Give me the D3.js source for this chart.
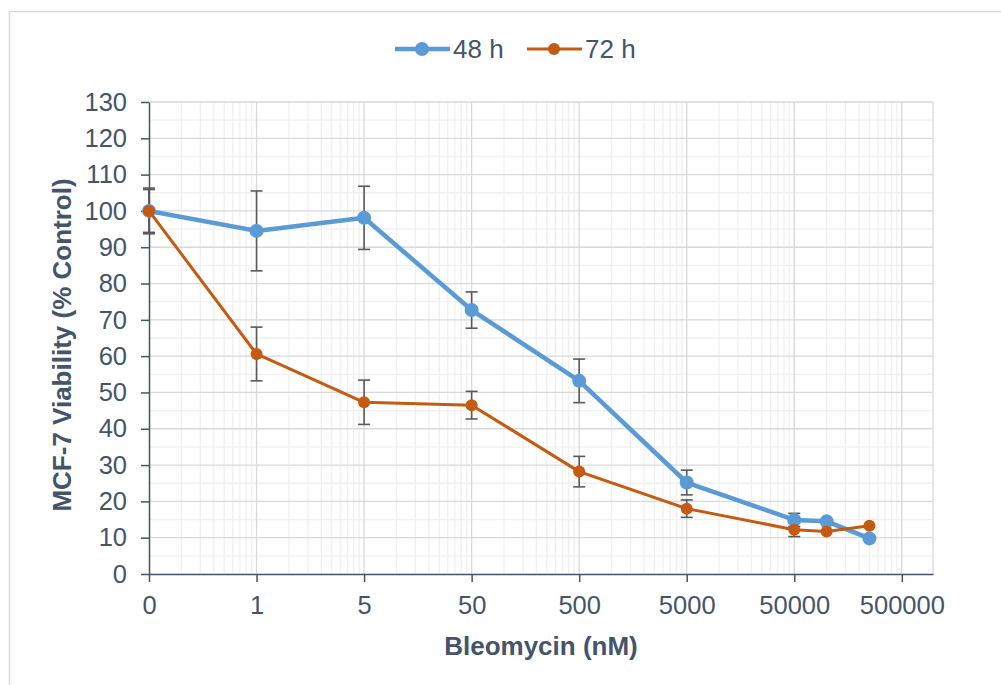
<!DOCTYPE html>
<html>
<head>
<meta charset="utf-8">
<script src="https://cdn.jsdelivr.net/npm/d3@7"></script>
<style>
  body { margin: 0; background: #fff; }
  text { font-family: "Liberation Sans", Arial, sans-serif; fill: #44546A; }
</style>
</head>
<body>
<div class="chart"></div>
<script>
// Data (x is the concentration on the log axis; labels are the axis text)
var doses = [1, 10, 100, 1000, 1e4, 1e5, 1e6, 2e6, 5e6];
var viability48 = [100, 94.5, 98.1, 72.7, 53.2, 25.2, 14.9, 14.5, 9.8];
var error48 = [5.9, 11, 8.7, 5, 6, 3.4, 1.8, 0, 0];
var viability72 = [100, 60.6, 47.3, 46.5, 28.2, 18.0, 12.2, 11.7, 13.3];
var error72 = [6.3, 7.4, 6.1, 3.8, 4.2, 2.4, 1.9, 0, 0];
var xTicks = [1, 10, 100, 1000, 1e4, 1e5, 1e6, 1e7];
var xTickLabels = ["0", "1", "5", "50", "500", "5000", "50000", "500000"];
var yTicks = d3.range(0, 131, 10);
var seriesNames = ["48 h", "72 h"];

var svgWidth = 1001;
var svgHeight = 685;

var margin = { top: 102, right: 68, bottom: 111, left: 149 };
var width = svgWidth - margin.left - margin.right;
var height = svgHeight - margin.top - margin.bottom;

var svg = d3.select(".chart")
  .append("svg")
  .attr("width", svgWidth)
  .attr("height", svgHeight);

// chart border
svg.append("rect")
  .attr("x", 9.5)
  .attr("y", 11.5)
  .attr("width", 1010)
  .attr("height", 700)
  .attr("fill", "none")
  .attr("stroke", "#D9D9D9")
  .attr("stroke-width", 1.5);

var chartGroup = svg.append("g")
  .attr("transform", `translate(${margin.left}, ${margin.top})`);

var xScale = d3.scaleLog()
  .domain([1, Math.pow(10, 7.29)])
  .range([0, width]);

var yScale = d3.scaleLinear()
  .domain([0, 130])
  .range([height, 0]);

// minor vertical gridlines
var minorX = [];
for (var e = 0; e < 8; e++) {
  for (var m = 2; m <= 9; m++) {
    var v = m * Math.pow(10, e);
    if (v <= xScale.domain()[1]) minorX.push(v);
  }
}
chartGroup.append("g")
  .selectAll("line")
  .data(minorX)
  .enter()
  .append("line")
  .attr("x1", d => xScale(d))
  .attr("x2", d => xScale(d))
  .attr("y1", 0)
  .attr("y2", height)
  .attr("stroke", "#F0F0F0")
  .attr("stroke-width", 1.3);

// minor horizontal gridlines
chartGroup.append("g")
  .selectAll("line")
  .data(d3.range(5, 130, 10))
  .enter()
  .append("line")
  .attr("x1", 0)
  .attr("x2", width)
  .attr("y1", d => yScale(d))
  .attr("y2", d => yScale(d))
  .attr("stroke", "#F0F0F0")
  .attr("stroke-width", 1.3);

// major gridlines
chartGroup.append("g")
  .selectAll("line")
  .data(xTicks.slice(1))
  .enter()
  .append("line")
  .attr("x1", d => xScale(d))
  .attr("x2", d => xScale(d))
  .attr("y1", 0)
  .attr("y2", height)
  .attr("stroke", "#D9D9D9")
  .attr("stroke-width", 1.3);

chartGroup.append("g")
  .selectAll("line")
  .data(yTicks.slice(1))
  .enter()
  .append("line")
  .attr("x1", 0)
  .attr("x2", width)
  .attr("y1", d => yScale(d))
  .attr("y2", d => yScale(d))
  .attr("stroke", "#D9D9D9")
  .attr("stroke-width", 1.3);

// right edge of plot
chartGroup.append("line")
  .attr("x1", width).attr("x2", width)
  .attr("y1", 0).attr("y2", height)
  .attr("stroke", "#D9D9D9")
  .attr("stroke-width", 1.3);

// Axes
var bottomAxis = d3.axisBottom(xScale)
  .tickValues(xTicks)
  .tickFormat((d, i) => xTickLabels[i])
  .tickSizeInner(8)
  .tickSizeOuter(0)
  .tickPadding(14);

var leftAxis = d3.axisLeft(yScale)
  .tickValues(yTicks)
  .tickSizeInner(8)
  .tickSizeOuter(0)
  .tickPadding(14);

var xAxisG = chartGroup.append("g")
  .attr("transform", `translate(0, ${height})`)
  .call(bottomAxis);

var yAxisG = chartGroup.append("g")
  .call(leftAxis);

[xAxisG, yAxisG].forEach(function(g) {
  g.select(".domain").attr("stroke", "#44546A").attr("stroke-width", 1.5);
  g.selectAll(".tick line").attr("stroke", "#44546A").attr("stroke-width", 1.5);
  g.selectAll(".tick text")
    .attr("fill", "#44546A")
    .style("font-size", "25.5px")
    .style("font-family", "Liberation Sans, Arial, sans-serif");
});

// Series
var series = [
  { name: seriesNames[0], values: viability48, errors: error48, color: "#5B9BD5", lw: 4.5, r: 7 },
  { name: seriesNames[1], values: viability72, errors: error72, color: "#C55A11", lw: 3, r: 6 }
];

var line = d3.line()
  .x(d => xScale(d.x))
  .y(d => yScale(d.y));

// error bars drawn first, under lines
series.forEach(function(s) {
  var pts = doses.map((x, i) => ({ x: x, y: s.values[i], e: s.errors[i] })).filter(d => d.e > 0);
  var eg = chartGroup.append("g");
  eg.selectAll("line.v")
    .data(pts)
    .enter()
    .append("line")
    .attr("x1", d => xScale(d.x))
    .attr("x2", d => xScale(d.x))
    .attr("y1", d => yScale(d.y - d.e))
    .attr("y2", d => yScale(d.y + d.e))
    .attr("stroke", "#595959")
    .attr("stroke-width", 1.6);
  [1, -1].forEach(function(sign) {
    eg.selectAll(null)
      .data(pts)
      .enter()
      .append("line")
      .attr("x1", d => xScale(d.x) - 6)
      .attr("x2", d => xScale(d.x) + 6)
      .attr("y1", d => yScale(d.y + sign * d.e))
      .attr("y2", d => yScale(d.y + sign * d.e))
      .attr("stroke", "#595959")
      .attr("stroke-width", 1.6);
  });
});

series.forEach(function(s) {
  var pts = doses.map((x, i) => ({ x: x, y: s.values[i] }));
  chartGroup.append("path")
    .datum(pts)
    .attr("d", line)
    .attr("fill", "none")
    .attr("stroke", s.color)
    .attr("stroke-width", s.lw)
    .attr("stroke-linejoin", "round");
  chartGroup.append("g")
    .selectAll("circle")
    .data(pts)
    .enter()
    .append("circle")
    .attr("cx", d => xScale(d.x))
    .attr("cy", d => yScale(d.y))
    .attr("r", s.r)
    .attr("fill", s.color);
});

// Axis titles
svg.append("text")
  .attr("transform", "translate(71, 345) rotate(-90)")
  .attr("text-anchor", "middle")
  .style("font-size", "26px")
  .style("font-weight", "bold")
  .text("MCF-7 Viability (% Control)");

svg.append("text")
  .attr("x", 541)
  .attr("y", 655)
  .attr("text-anchor", "middle")
  .style("font-size", "26px")
  .style("font-weight", "bold")
  .text("Bleomycin (nM)");

// Legend
var legendItems = [{ x: 395, s: series[0] }, { x: 527, s: series[1] }];
legendItems.forEach(function(item) {
  var g = svg.append("g").attr("transform", `translate(${item.x}, 49)`);
  g.append("line")
    .attr("x1", 0).attr("x2", 55)
    .attr("y1", 0).attr("y2", 0)
    .attr("stroke", item.s.color)
    .attr("stroke-width", item.s.lw);
  g.append("circle")
    .attr("cx", 27).attr("cy", 0)
    .attr("r", item.s.r)
    .attr("fill", item.s.color);
  g.append("text")
    .attr("x", 58)
    .attr("y", 9)
    .style("font-size", "26px")
    .text(item.s.name);
});
</script>
</body>
</html>
